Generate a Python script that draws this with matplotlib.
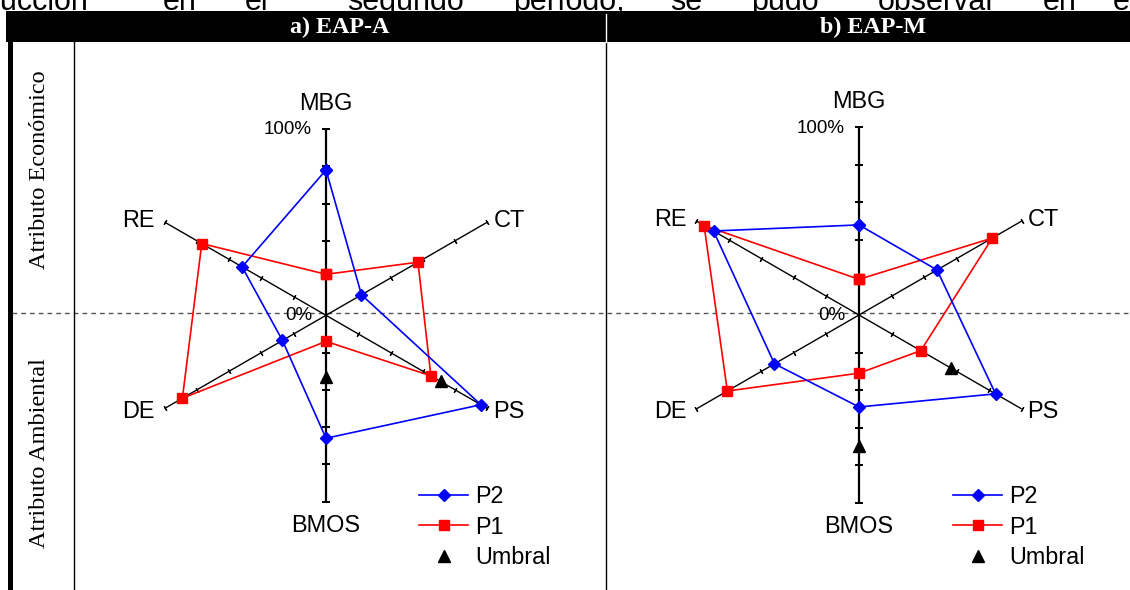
import numpy as np
import matplotlib
matplotlib.use("Agg")
import matplotlib.pyplot as plt
from matplotlib.patches import Rectangle

# ---------------- data ----------------
axis_labels = ["MBG", "CT", "PS", "BMOS", "DE", "RE"]
panel_titles = ["a) EAP-A", "b) EAP-M"]
row_labels = ["Atributo Económico", "Atributo Ambiental"]
series_names = ["P2", "P1", "Umbral"]
tick_values = [0.2, 0.4, 0.6, 0.8, 1.0]
pct_labels = ["0%", "100%"]

p2_a = [0.78, 0.22, 0.96, 0.66, 0.27, 0.52]
p1_a = [0.22, 0.57, 0.65, 0.14, 0.89, 0.77]
umbral_axes_a = ["PS", "BMOS"]
umbral_vals_a = [0.71, 0.33]

p2_b = [0.48, 0.48, 0.84, 0.49, 0.52, 0.895]
p1_b = [0.19, 0.82, 0.38, 0.31, 0.81, 0.953]
umbral_axes_b = ["PS", "BMOS"]
umbral_vals_b = [0.565, 0.70]

top_words = ["producción", "en", "el", "segundo", "período,", "se", "pudo",
             "observar", "en", "el"]

# ---------------- layout ----------------
W, H = 1130, 590
fig = plt.figure(figsize=(W / 100, H / 100), dpi=100)
SANS = ["Liberation Sans", "DejaVu Sans"]
SERIF = ["Liberation Serif", "DejaVu Serif"]

bg = fig.add_axes([0, 0, 1, 1])
bg.set_xlim(0, W)
bg.set_ylim(H, 0)
bg.axis("off")

# cut-off paragraph text at the very top
word_pos = [(88, "right"), (163, "left"), (245, "left"), (347, "left"),
            (513, "left"), (670, "left"), (751, "left"), (878, "left"),
            (1043, "left"), (1113, "left")]
for w, (x, ha) in zip(top_words, word_pos):
    bg.text(x, 10, w, ha=ha, va="baseline", fontsize=22, family=SANS,
            color="black", zorder=1)

# header bar
bg.add_patch(Rectangle((6, 11), W - 6, 31, facecolor="black",
                       edgecolor="none", zorder=3))
bg.plot([606, 606], [14, 42], color="white", lw=1.0, zorder=4)
bg.text(340, 27, panel_titles[0], ha="center", va="center", fontsize=17.4,
        fontweight="bold", family=SERIF, color="white", zorder=5)
bg.text(873, 27, panel_titles[1], ha="center", va="center", fontsize=17.4,
        fontweight="bold", family=SERIF, color="white", zorder=5)

# table lines
bg.add_patch(Rectangle((7.5, 42), 5, H - 42, facecolor="black",
                       edgecolor="none", zorder=3))
bg.plot([74, 74], [42, H], color="black", lw=1.0, zorder=3)
bg.plot([606, 606], [42, H], color="black", lw=1.0, zorder=3)
bg.plot([12, W], [313, 313], color="#555555", lw=1.0, dashes=(3.4, 2.9),
        zorder=2)

bg.text(40, 170, row_labels[0], rotation=90, ha="center", va="center",
        fontsize=17.5, family=SERIF, color="black")
bg.text(40, 453, row_labels[1], rotation=90, ha="center", va="center",
        fontsize=17.5, family=SERIF, color="black")

# ---------------- radar panels ----------------
label_offsets = {
    "MBG": (0, 26, "center"), "CT": (6, 2, "left"), "PS": (6, -3, "left"),
    "BMOS": (0, -24, "center"), "DE": (-10, -3, "right"), "RE": (-10, 2, "right"),
}


def radar(cx, cy, R, p2, p1, u_axes, u_vals, legend_x):
    ax = fig.add_axes([(cx - R) / W, (H - cy - R) / H, 2 * R / W, 2 * R / H],
                      projection="polar")
    ax.set_theta_zero_location("N")
    ax.set_theta_direction(-1)
    ax.set_ylim(0, 1)
    ax.axis("off")
    theta = np.deg2rad(np.arange(len(axis_labels)) * 60.0)

    for i, t in enumerate(theta):
        vertical = axis_labels[i] in ("MBG", "BMOS")
        ax.plot([t, t], [0, 1], color="black", lw=1.6 if vertical else 1.0,
                clip_on=False, zorder=2, solid_capstyle="butt")
        phi = 90 - i * 60
        ax.plot([t] * len(tick_values), tick_values, ls="none",
                marker=(2, 2, phi), ms=5.2 if vertical else 3.8,
                mew=1.4 if vertical else 0.9, mec="black", clip_on=False,
                zorder=2)
        dx, dy, ha = label_offsets[axis_labels[i]]
        ax.annotate(axis_labels[i], xy=(t, 1), xytext=(dx, dy),
                    textcoords="offset pixels", ha=ha, va="center",
                    fontsize=16.9, family=SANS, annotation_clip=False)

    ax.annotate(pct_labels[1], xy=(0, 1), xytext=(-14, -1),
                textcoords="offset pixels", ha="right", va="center",
                fontsize=13.5, family=SANS, annotation_clip=False)
    ax.annotate(pct_labels[0], xy=(0, 0), xytext=(-14, 0),
                textcoords="offset pixels", ha="right", va="center",
                fontsize=13.5, family=SANS, annotation_clip=False)

    tc = np.append(theta, theta[0])
    h1, = ax.plot(tc, p1 + p1[:1], color="#FF0000", lw=1.2, marker="s",
                  ms=7.5, mfc="#FF0000", mec="#FF0000", clip_on=False,
                  zorder=4, label=series_names[1])
    h2, = ax.plot(tc, p2 + p2[:1], color="#0000FF", lw=1.2, marker="D",
                  ms=6.4, mfc="#0000FF", mec="#0000FF", clip_on=False,
                  zorder=5, label=series_names[0])
    ut = [theta[axis_labels.index(a)] for a in u_axes]
    h3, = ax.plot(ut, u_vals, ls="none", marker="^", ms=8.6, color="black",
                  clip_on=False, zorder=6, label=series_names[2])

    ax.legend(handles=[h2, h1, h3], loc="center left",
              bbox_to_anchor=(legend_x / W, 1 - 527 / H),
              bbox_transform=fig.transFigure, frameon=False,
              borderpad=0, borderaxespad=0, handlelength=2.1,
              handletextpad=0.3, labelspacing=0.32, numpoints=1,
              prop={"family": SANS, "size": 16.8})
    return ax


radar(326, 315.3, 186.3, p2_a, p1_a, umbral_axes_a, umbral_vals_a, 419)
radar(859, 315.0, 187.7, p2_b, p1_b, umbral_axes_b, umbral_vals_b, 953)

fig.savefig("out.png", dpi=100)
